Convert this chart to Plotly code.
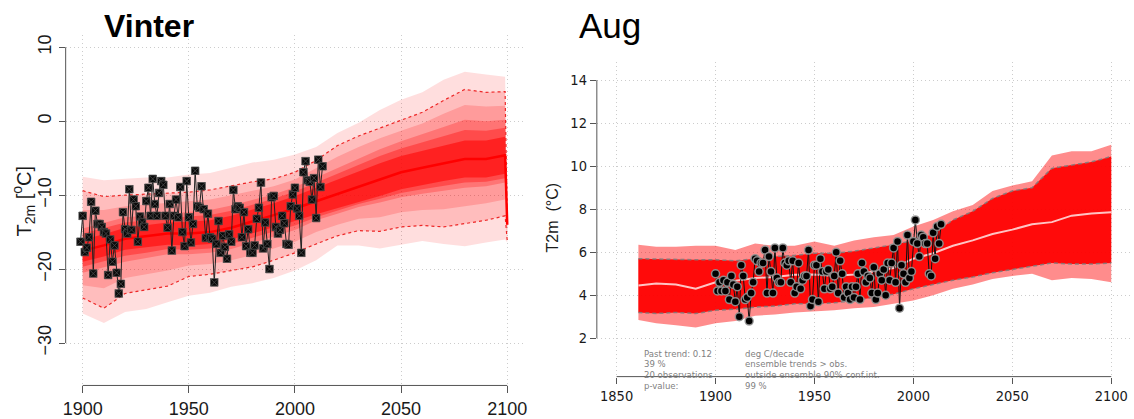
import plotly.graph_objects as go

W, H = 1134, 419

# ---------------- Vinter (left panel) ----------------
years_v = [1900, 1910, 1920, 1930, 1940, 1950, 1960, 1970, 1980, 1990, 2000,
           2010, 2020, 2030, 2040, 2050, 2060, 2070, 2080, 2090, 2099, 2100]
median_v = [-17.5, -16.8, -15.9, -15.6, -15.2, -15.2, -15.0, -14.4, -13.6, -12.7, -11.8,
            -10.8, -9.9, -8.8, -7.9, -6.9, -6.3, -5.7, -5.1, -5.1, -4.6, -14.0]
q95_v = [-9.4, -10.2, -10.0, -9.9, -9.8, -9.6, -9.3, -8.7, -8.2, -7.8, -6.9,
         -5.3, -3.3, -2.0, -0.9, 0.1, 1.2, 2.8, 4.3, 3.9, 4.0, -13.5]
q05_v = [-23.9, -25.3, -23.3, -22.8, -22.3, -21.0, -20.7, -20.2, -19.7, -18.8, -17.8,
         -16.6, -15.5, -14.8, -14.9, -14.3, -14.1, -14.3, -13.9, -13.4, -12.8, -16.2]
outer_hi_v = [-7.5, -8.0, -7.8, -7.6, -7.6, -7.2, -7.0, -6.3, -5.6, -5.2, -4.5,
              -3.5, -1.6, -0.2, 1.5, 2.9, 3.9, 5.6, 6.7, 6.3, 6.0, -13.0]
outer_lo_v = [-26.0, -27.3, -25.8, -25.4, -24.5, -23.6, -23.2, -22.4, -21.9, -21.2, -20.2,
              -18.8, -16.8, -16.8, -17.2, -16.7, -16.2, -16.6, -16.9, -16.4, -16.0, -16.4]
q85_v = [-12.0, -12.0, -11.5, -11.3, -11.1, -10.9, -10.6, -10.0, -9.4, -8.8, -7.9,
         -6.4, -4.8, -3.5, -2.3, -1.3, -0.3, 1.0, 2.2, 2.0, 2.1, -13.6]
q15_v = [-22.2, -22.6, -21.2, -20.7, -20.2, -19.5, -19.3, -18.8, -18.1, -17.2, -16.3,
         -15.0, -14.0, -13.2, -13.0, -12.3, -12.0, -11.9, -11.5, -11.1, -10.6, -15.3]
q75_v = [-14.5, -13.8, -13.0, -12.8, -12.5, -12.3, -12.0, -11.4, -10.7, -9.9, -8.9,
         -7.6, -6.3, -5.0, -3.8, -2.7, -1.8, -0.8, 0.2, 0.0, 0.2, -13.8]
q25_v = [-20.5, -19.8, -19.0, -18.5, -18.0, -18.0, -17.8, -17.3, -16.5, -15.6, -14.7,
         -13.4, -12.5, -11.6, -11.0, -10.3, -9.8, -9.4, -9.0, -8.8, -8.3, -14.5]
q67_v = [-15.2, -14.5, -13.7, -13.4, -13.1, -12.9, -12.7, -12.1, -11.3, -10.5, -9.5,
         -8.3, -7.1, -5.8, -4.7, -3.7, -2.9, -2.0, -1.2, -1.3, -0.9, -13.85]
q33_v = [-19.7, -19.0, -18.2, -17.8, -17.3, -17.4, -17.2, -16.6, -15.8, -15.0, -14.1,
         -13.0, -12.1, -11.2, -10.5, -9.7, -9.2, -8.7, -8.3, -8.2, -7.7, -14.35]
q60_v = [-16.0, -15.3, -14.4, -14.1, -13.7, -13.6, -13.4, -12.8, -12.0, -11.1, -10.1,
         -9.0, -7.9, -6.7, -5.7, -4.7, -4.0, -3.3, -2.6, -2.6, -2.1, -13.9]
q40_v = [-19.0, -18.3, -17.4, -17.1, -16.7, -16.8, -16.6, -16.0, -15.2, -14.3, -13.5,
         -12.6, -11.8, -10.9, -10.1, -9.2, -8.6, -8.1, -7.6, -7.6, -7.1, -14.2]

obs_start_v = 1899
obs_v = [-16.3, -12.8, -17.7, -17.1, -15.7, -10.9, -20.6, -12.1, -13.9, -13.9,
         -14.3, -15.0, -15.2, -20.8, -16.0, -19.0, -16.8, -20.5, -23.3, -22.0,
         -12.3, -14.6, -15.2, -9.2, -14.7, -10.6, -11.5, -16.3, -12.9, -13.7,
         -14.3, -10.8, -9.0, -12.8, -7.8, -11.2, -12.8, -9.7, -8.1, -8.6,
         -12.8, -14.4, -11.2, -17.5, -12.8, -10.6, -13.0, -8.9, -15.0, -16.9,
         -8.1, -13.0, -16.4, -13.9, -6.7, -11.5, -11.7, -8.8, -11.9, -15.8,
         -12.5, -15.7, -15.9, -21.8, -16.6, -13.5, -17.8, -15.5, -17.0, -18.6,
         -15.3, -16.3, -9.3, -11.9, -11.5, -11.7, -15.7, -12.3, -16.9, -14.6,
         -17.8, -17.8, -16.8, -13.2, -11.7, -8.3, -17.2, -13.7, -16.6, -20.0,
         -10.3, -10.1, -14.3, -15.2, -14.7, -12.8, -13.8, -16.6, -16.7, -11.5,
         -9.9, -9.0, -11.8, -12.8, -17.8, -6.9, -5.4, -8.0, -8.2, -10.6,
         -7.7, -13.1, -5.2, -8.9, -6.1]
obs_years_v = list(range(obs_start_v, obs_start_v + len(obs_v)))

xticks_v = [1900, 1950, 2000, 2050, 2100]
yticks_v = [-30, -20, -10, 0, 10]
ylabels_v = ["\u221230", "\u221220", "\u221210", "0", "10"]

# ---------------- Aug (right panel) ----------------
years_a = [1861, 1870, 1880, 1890, 1900, 1910, 1920, 1930, 1940, 1950, 1960, 1970,
           1980, 1990, 2000, 2010, 2020, 2030, 2040, 2050, 2060, 2070, 2080, 2090, 2100]
median_a = [4.45, 4.55, 4.5, 4.3, 4.6, 4.67, 4.8, 4.85, 4.95, 4.97, 4.9, 4.97,
            5.1, 5.27, 5.7, 5.95, 6.3, 6.55, 6.85, 7.05, 7.3, 7.4, 7.7, 7.8, 7.86]
q95_a = [5.7, 5.68, 5.65, 5.65, 5.65, 5.6, 5.7, 5.8, 5.85, 5.95, 5.95, 6.05,
         6.2, 6.35, 6.55, 6.85, 7.5, 7.9, 8.5, 8.85, 9.0, 9.9, 10.05, 10.2, 10.45]
q05_a = [3.2, 3.15, 3.2, 3.15, 3.3, 3.35, 3.45, 3.5, 3.6, 3.6, 3.65, 3.75,
         3.9, 4.05, 4.3, 4.5, 4.7, 4.85, 5.05, 5.2, 5.35, 5.5, 5.45, 5.45, 5.5]
outer_hi_a = [6.35, 6.25, 6.25, 6.3, 6.3, 6.1, 6.4, 6.3, 6.3, 6.5, 6.3, 6.55,
              6.7, 6.8, 7.2, 7.5, 7.9, 8.2, 8.85, 9.1, 9.3, 10.5, 10.7, 10.7, 11.0]
outer_lo_a = [2.85, 2.7, 2.6, 2.5, 2.7, 2.8, 3.05, 3.1, 3.2, 3.25, 3.3, 3.4,
              3.45, 3.6, 3.75, 4.0, 4.3, 4.5, 4.75, 4.9, 5.0, 4.7, 4.8, 4.75, 4.6]

obs_start_a = 1900
obs_a = [5.0, 4.2, 4.6, 4.2, 4.7, 4.2, 4.6, 3.8, 4.9, 4.5,
         3.7, 4.4, 3.0, 5.4, 4.9, 3.8, 3.9, 2.8, 4.1, 4.6,
         5.7, 5.6, 5.1, 5.5, 5.5, 6.1, 4.1, 5.8, 5.1, 4.1,
         6.2, 4.8, 4.6, 4.6, 6.2, 5.5, 5.4, 5.6, 4.6, 5.6,
         4.1, 4.4, 5.5, 4.3, 4.7, 4.9, 4.9, 6.1, 3.5, 3.8,
         5.4, 5.4, 3.7, 5.7, 5.1, 4.3, 5.1, 5.2, 4.3, 4.4,
         4.9, 6.0, 4.1, 5.6, 5.0, 3.9, 4.4, 4.1, 3.8, 4.4,
         3.9, 4.4, 5.0, 3.8, 5.5, 5.1, 4.6, 4.9, 4.8, 4.1,
         5.3, 3.8, 4.1, 5.0, 4.7, 5.2, 4.0, 5.5, 4.7, 5.5,
         6.2, 4.6, 6.5, 3.4, 5.4, 5.0, 4.6, 6.8, 4.8, 5.1,
         6.5, 7.5, 6.4, 5.8, 6.8, 6.7, 6.4, 6.4, 5.0, 4.9,
         6.9, 5.7, 7.2, 6.4, 7.3]
obs_years_a = list(range(obs_start_a, obs_start_a + len(obs_a)))

xticks_a = [1850, 1900, 1950, 2000, 2050, 2100]
yticks_a = [2, 4, 6, 8, 10, 12, 14]

trend_left = ["Past trend: 0.12", "39 %", "20 observations", "p-value:"]
trend_right = ["deg C/decade", "ensemble trends > obs.", "outside ensemble 90% conf.int.", "99 %"]

# ---------------- figure ----------------
fig = go.Figure()


def add_band(x, lo, hi, color, xa, ya):
    fig.add_trace(go.Scatter(x=x, y=lo, mode="lines", line=dict(width=0),
                             hoverinfo="skip", showlegend=False, xaxis=xa, yaxis=ya))
    fig.add_trace(go.Scatter(x=x, y=hi, mode="lines", line=dict(width=0),
                             fill="tonexty", fillcolor=color,
                             hoverinfo="skip", showlegend=False, xaxis=xa, yaxis=ya))


def add_line(x, y, color, width, dash, xa, ya):
    fig.add_trace(go.Scatter(x=x, y=y, mode="lines",
                             line=dict(color=color, width=width, dash=dash),
                             hoverinfo="skip", showlegend=False, xaxis=xa, yaxis=ya))


# Vinter ensemble fan: nested quantile bands build up a gradient toward the median
add_band(years_v, outer_lo_v, outer_hi_v, "rgba(255,0,0,0.13)", "x", "y")
add_band(years_v, q05_v, q95_v, "rgba(255,0,0,0.15)", "x", "y")
add_band(years_v, q15_v, q85_v, "rgba(255,0,0,0.18)", "x", "y")
add_band(years_v, q25_v, q75_v, "rgba(255,0,0,0.25)", "x", "y")
add_band(years_v, q33_v, q67_v, "rgba(255,0,0,0.35)", "x", "y")
add_band(years_v, q40_v, q60_v, "rgba(255,0,0,0.55)", "x", "y")
add_line(years_v, q95_v, "rgba(235,20,20,0.9)", 1.2, "3px,3px", "x", "y")
add_line(years_v, q05_v, "rgba(235,20,20,0.9)", 1.2, "3px,3px", "x", "y")
add_line(years_v, median_v, "#ff0000", 2.5, "solid", "x", "y")

# Vinter observations
fig.add_trace(go.Scatter(x=obs_years_v, y=obs_v, mode="lines",
                         line=dict(color="#222222", width=1),
                         hoverinfo="skip", showlegend=False, xaxis="x", yaxis="y"))
fig.add_trace(go.Scatter(x=obs_years_v, y=obs_v, mode="markers",
                         marker=dict(symbol="square-x", size=7.5, color="#0a0a0a",
                                     line=dict(color="#4a4a4a", width=0.8)),
                         hoverinfo="skip", showlegend=False, xaxis="x", yaxis="y"))

# Aug ensemble fan
add_band(years_a, outer_lo_a, outer_hi_a, "rgba(255,0,0,0.45)", "x2", "y2")
add_band(years_a, q05_a, q95_a, "rgba(255,0,0,0.93)", "x2", "y2")
add_line(years_a, q95_a, "rgba(125,125,125,0.85)", 1.5, "4px,3px", "x2", "y2")
add_line(years_a, q05_a, "rgba(125,125,125,0.85)", 1.5, "4px,3px", "x2", "y2")
add_line(years_a, median_a, "#ffc4c4", 2, "solid", "x2", "y2")

# Aug observations
fig.add_trace(go.Scatter(x=obs_years_a, y=obs_a, mode="lines",
                         line=dict(color="#111111", width=1),
                         hoverinfo="skip", showlegend=False, xaxis="x2", yaxis="y2"))
fig.add_trace(go.Scatter(x=obs_years_a, y=obs_a, mode="markers",
                         marker=dict(symbol="circle", size=8, color="#000000",
                                     line=dict(color="rgba(150,150,150,0.9)", width=1.5)),
                         hoverinfo="skip", showlegend=False, xaxis="x2", yaxis="y2"))

# ---------------- axes ----------------
grid = dict(showgrid=True, gridcolor="#cccccc", griddash="1px,3px", gridwidth=1,
            zeroline=False, showline=False, ticks="outside", tickcolor="#555555",
            tickwidth=1)
font_big = dict(family="Liberation Sans, Arial, sans-serif", size=18, color="#1a1a1a")
font_narrow = dict(family="Liberation Sans Narrow, Arial Narrow, DejaVu Sans Condensed, sans-serif",
                   size=14.5, color="#1a1a1a")

fig.update_layout(
    width=W, height=H,
    margin=dict(l=0, r=0, t=0, b=0),
    paper_bgcolor="white", plot_bgcolor="rgba(0,0,0,0)",
    showlegend=False,
    xaxis=dict(domain=[63 / W, 524 / W], range=[1892, 2108], anchor="y",
               tickvals=xticks_v, ticklen=7, tickfont=font_big, **grid),
    yaxis=dict(domain=[28 / H, 384 / H], range=[-35.74, 11.6], anchor="x",
               tickvals=yticks_v, ticktext=ylabels_v, tickangle=-90, ticklen=6,
               tickfont=font_big, **grid),
    xaxis2=dict(domain=[597 / W, 1.0], range=[1840, 2110], anchor="y2",
                tickvals=xticks_a, ticklen=6, tickfont=font_narrow, **grid),
    yaxis2=dict(domain=[37 / H, 357 / H], range=[0.217, 14.846], anchor="x2",
                tickvals=yticks_a, ticklen=6, tickfont=font_narrow, **grid),
)

# R-style axis lines spanning first to last tick
axis_col = "#555555"
fig.add_shape(type="line", xref="x domain", yref="y", x0=0, x1=0,
              y0=min(yticks_v), y1=max(yticks_v), line=dict(color=axis_col, width=1))
fig.add_shape(type="line", xref="x", yref="y domain", x0=min(xticks_v), x1=max(xticks_v),
              y0=0, y1=0, line=dict(color=axis_col, width=1))
fig.add_shape(type="line", xref="x2 domain", yref="y2", x0=0, x1=0,
              y0=min(yticks_a), y1=max(yticks_a), line=dict(color=axis_col, width=1))
fig.add_shape(type="line", xref="x2", yref="y2 domain", x0=min(xticks_a), x1=max(xticks_a),
              y0=0, y1=0, line=dict(color=axis_col, width=1))


def py(y):
    return 1 - y / H


# Titles
fig.add_annotation(text="<b>Vinter</b>", x=147 / W, y=py(25), xref="paper", yref="paper",
                   xanchor="center", yanchor="middle", showarrow=False,
                   font=dict(family="Liberation Sans, Arial, sans-serif", size=32, color="#000"))
fig.add_shape(type="rect", xref="paper", yref="paper", x0=95 / W, x1=200 / W,
              y0=py(36), y1=py(33.5), fillcolor="white", line=dict(width=0), layer="above")
fig.add_annotation(text="Aug", x=577 / W, y=py(25), xref="paper", yref="paper",
                   xanchor="left", yanchor="middle", showarrow=False,
                   font=dict(family="Liberation Sans, Arial, sans-serif", size=35, color="#000"))

# Axis titles
fig.add_annotation(text="T<sub>2m</sub> [<sup>o</sup>C]", x=21 / W, y=py(203),
                   xref="paper", yref="paper", textangle=-90, showarrow=False,
                   xanchor="center", yanchor="middle",
                   font=dict(family="Liberation Sans, Arial, sans-serif", size=20, color="#1a1a1a"))
fig.add_annotation(text="T2m\u00a0 (\u00b0C)", x=552 / W, y=py(220),
                   xref="paper", yref="paper", textangle=-90, showarrow=False,
                   xanchor="center", yanchor="middle",
                   font=dict(family="Liberation Sans, Arial, sans-serif", size=16, color="#1a1a1a"))

# Trend summary text
small = dict(family="Liberation Sans Narrow, Arial Narrow, DejaVu Sans Condensed, sans-serif",
             size=9.5, color="#7f7f7f")
for i, (a, b) in enumerate(zip(trend_left, trend_right)):
    yy = py(358 + 11 * i)
    fig.add_annotation(text=a, x=642 / W, y=yy, xref="paper", yref="paper",
                       xanchor="left", yanchor="middle", showarrow=False, font=small)
    fig.add_annotation(text=b, x=744 / W, y=yy, xref="paper", yref="paper",
                       xanchor="left", yanchor="middle", showarrow=False, font=small)

fig.write_html("out.html")
